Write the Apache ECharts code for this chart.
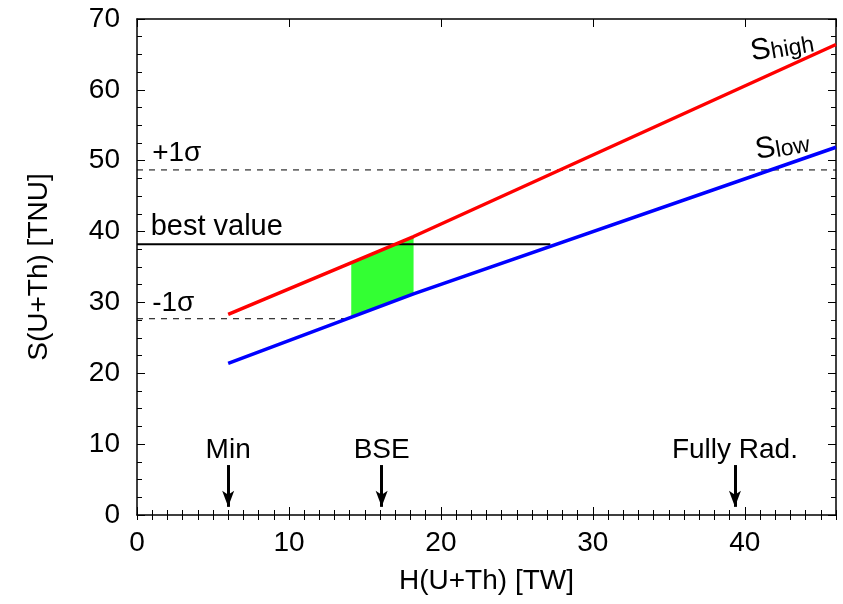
<!DOCTYPE html>
<html>
<head>
<meta charset="utf-8">
<script src="https://cdn.jsdelivr.net/npm/echarts@6/dist/echarts.min.js"></script>
<style>html,body{margin:0;padding:0;background:#fff}#c{width:843px;height:604px}</style>
</head>
<body>
<div id="c"></div>
<script>
// ---- data ----
const xTicks = [0, 10, 20, 30, 40];
const yTicks = [0, 10, 20, 30, 40, 50, 60, 70];
const highH = [6, 18.2, 46];
const highS = [28.3, 39.3, 66.4];
const lowH = [6, 18.2, 46];
const lowS = [21.4, 31.2, 51.9];
const bandH = [14.1, 18.2];
const bandLow = [28.0, 31.2];
const bandHigh = [35.5, 39.3];
const bestValue = 38.2;
const bestEndH = 27.2;
const sigmaPlus = 48.7;
const sigmaMinus = 27.7;
const sigmaMinusEndH = 14.1;
const markerNames = ['Min', 'BSE', 'Fully Rad.'];
const markerH = [6, 16.1, 39.35];
const arrowTop = 7.05;
const arrowTip = 1.15;

const FONT = '"Liberation Sans", Arial, Helvetica, sans-serif';
const chart = echarts.init(document.getElementById('c'), null, {renderer: 'canvas'});

const zip = (a, b) => a.map((v, i) => [v, b[i]]);

function baseX(extra) {
  return Object.assign({
    type: 'value', min: 0, max: 46, gridIndex: 0,
    splitLine: {show: false},
    axisLine: {show: true, onZero: false, lineStyle: {color: '#000', width: 1.5}},
    axisTick: {show: true, inside: true, length: 8, lineStyle: {color: '#000', width: 1}},
    axisLabel: {show: false}
  }, extra);
}
function baseY(extra) {
  return Object.assign({
    type: 'value', min: 0, max: 70, interval: 10, gridIndex: 0,
    splitLine: {show: false},
    axisLine: {show: true, onZero: false, lineStyle: {color: '#000', width: 1.5}},
    axisTick: {show: true, inside: true, length: 8, lineStyle: {color: '#000', width: 1}},
    minorTick: {show: true, splitNumber: 4, length: 5, lineStyle: {color: '#000', width: 1}},
    axisLabel: {show: false}
  }, extra);
}

const labelItems = [
  {value: [1.0, 51.0], text: '+1σ', align: 'left', size: 28},
  {value: [0.9, 40.65], text: 'best value', align: 'left', size: 29},
  {value: [1.0, 29.9], text: '-1σ', align: 'left', size: 28}
].concat(markerNames.map((n, i) => ({value: [markerH[i], 9.1], text: n, align: 'center', size: 28})));

const option = {
  animation: false,
  backgroundColor: '#fff',
  grid: {left: 137, right: 7, top: 19, bottom: 89, containLabel: false},
  xAxis: [
    baseX({position: 'bottom', interval: 10,
      name: 'H(U+Th) [TW]', nameLocation: 'middle', nameGap: 52,
      nameTextStyle: {fontFamily: FONT, fontSize: 28, color: '#000'},
      axisLabel: {show: true, fontFamily: FONT, fontSize: 28, color: '#000', margin: 14,
        showMaxLabel: false, formatter: v => (xTicks.indexOf(v) >= 0 ? String(v) : '')}}),
    baseX({position: 'bottom', interval: 1, axisLine: {show: false},
      axisTick: {show: true, inside: true, length: 5, lineStyle: {color: '#000', width: 1}}}),
    baseX({position: 'top', interval: 10}),
    baseX({position: 'top', interval: 1, axisLine: {show: false},
      axisTick: {show: true, inside: true, length: 5, lineStyle: {color: '#000', width: 1}}})
  ],
  yAxis: [
    baseY({position: 'left',
      name: 'S(U+Th) [TNU]', nameLocation: 'middle', nameGap: 84,
      nameTextStyle: {fontFamily: FONT, fontSize: 28, color: '#000'},
      axisLabel: {show: true, fontFamily: FONT, fontSize: 28, color: '#000', margin: 17,
        formatter: v => (yTicks.indexOf(v) >= 0 ? String(v) : '')}}),
    baseY({position: 'right'})
  ],
  series: [
    {
      type: 'custom', xAxisIndex: 0, yAxisIndex: 0, z: 1,
      data: [[bandH[0], bandLow[0]]],
      renderItem: (params, api) => {
        const pts = [
          api.coord([bandH[0], bandLow[0]]),
          api.coord([bandH[1], bandLow[1]]),
          api.coord([bandH[1], bandHigh[1]]),
          api.coord([bandH[0], bandHigh[0]])
        ];
        return {type: 'polygon', shape: {points: pts}, style: {fill: '#33ff33', stroke: null}};
      },
      silent: true
    },
    {type: 'line', z: 3, data: zip(highH, highS), showSymbol: false, symbol: 'none',
      lineStyle: {color: '#ff0000', width: 3.5}, silent: true},
    {type: 'line', z: 3, data: zip(lowH, lowS), showSymbol: false, symbol: 'none',
      lineStyle: {color: '#0000ff', width: 3.5}, silent: true},
    {type: 'line', z: 2, data: [[0, bestValue], [bestEndH, bestValue]], symbol: 'none',
      lineStyle: {color: '#000', width: 2}, silent: true},
    {type: 'line', z: 2, data: [[0, sigmaPlus], [46, sigmaPlus]], symbol: 'none',
      lineStyle: {color: '#000', width: 1, type: [6, 6]}, silent: true},
    {type: 'line', z: 2, data: [[0, sigmaMinus], [sigmaMinusEndH, sigmaMinus]], symbol: 'none',
      lineStyle: {color: '#000', width: 1, type: [6, 6]}, silent: true},
    {
      type: 'line', z: 4, data: [], silent: true,
      markLine: {
        silent: true, animation: false,
        symbol: ['none', 'arrow'], symbolSize: [9, 16],
        label: {show: false},
        lineStyle: {color: '#000', width: 3, type: 'solid', opacity: 1},
        emphasis: {disabled: true},
        data: markerH.map(h => [{coord: [h, arrowTop]}, {coord: [h, arrowTip]}])
      }
    },
    {
      type: 'scatter', z: 5, symbolSize: 0, silent: true,
      itemStyle: {opacity: 1},
      data: labelItems.map(d => ({value: d.value, label: {
        show: true, position: [0, 0], formatter: d.text, align: d.align, verticalAlign: 'middle',
        fontFamily: FONT, fontSize: d.size, color: '#000000', opacity: 1,
        textBorderWidth: 0, textShadowBlur: 0}}))
    },
    {
      type: 'scatter', z: 5, symbolSize: 0, silent: true,
      itemStyle: {opacity: 1},
      data: [
        {value: [40.4, 65.3], label: {formatter: '{s|S}{b|high}'}},
        {value: [40.7, 51.4], label: {formatter: '{s|S}{b|low}'}}
      ],
      label: {
        show: true, position: [0, 0], align: 'left', verticalAlign: 'middle', rotate: 10,
        fontFamily: FONT, color: '#000', opacity: 1, textBorderWidth: 0,
        rich: {
          s: {fontFamily: FONT, fontSize: 30, lineHeight: 30, verticalAlign: 'top', color: '#000'},
          b: {fontFamily: FONT, fontSize: 23, lineHeight: 23, verticalAlign: 'bottom', padding: [14, 0, 0, 0], color: '#000'}
        }
      }
    }
  ]
};
chart.setOption(option);
</script>
</body>
</html>
